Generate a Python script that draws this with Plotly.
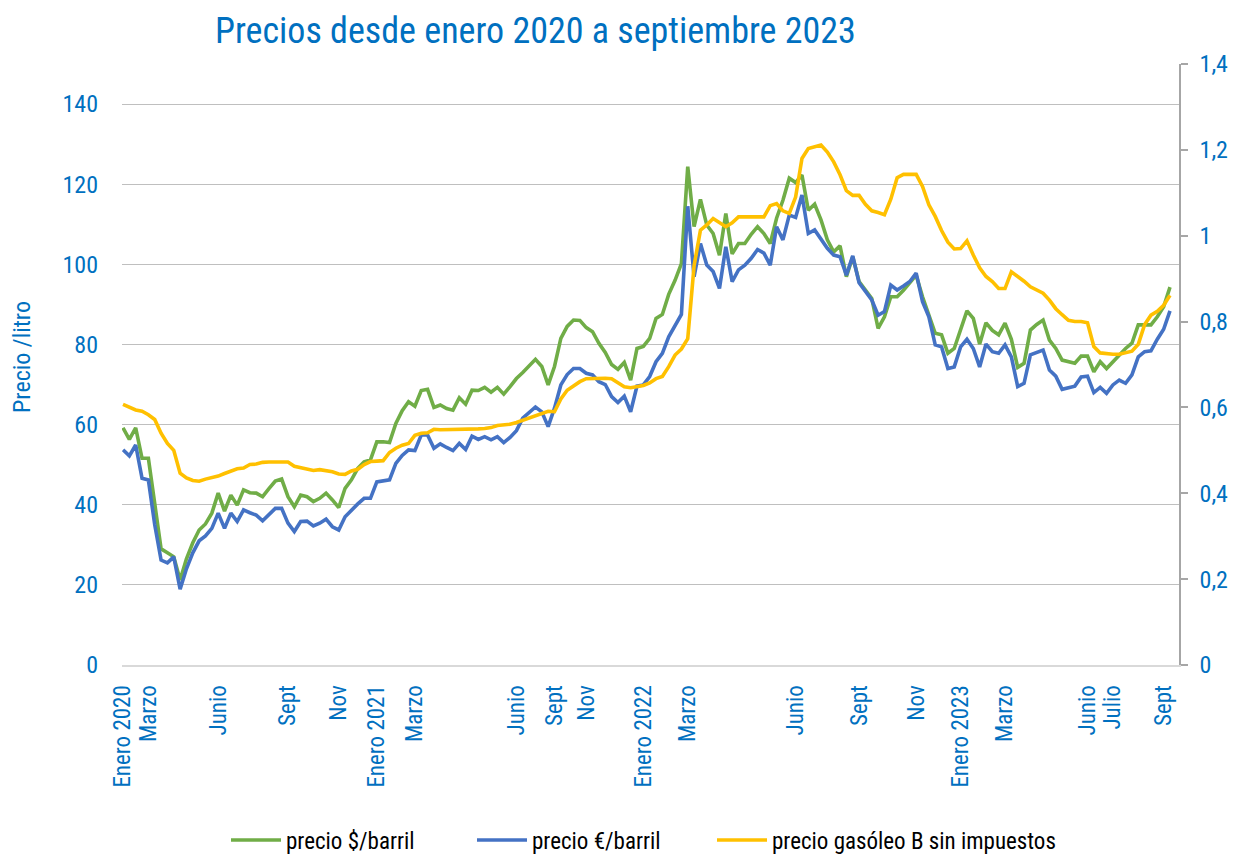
import plotly.graph_objects as go

# ---------------- data ----------------
precio_usd_barril = [
    59.2, 56.3, 59.2, 51.6, 51.6, 40.0, 29.0, 28.0, 27.0, 21.2,
    26.5, 30.5, 33.7, 35.2, 37.9, 42.9, 38.4, 42.4, 39.9, 43.7,
    43.0, 42.9, 42.0, 44.0, 45.9, 46.4, 42.0, 39.5, 42.4, 42.0,
    40.8, 41.6, 42.9, 41.2, 39.3, 44.1, 46.2, 49.1, 50.7, 51.2,
    55.7, 55.7, 55.5, 60.3, 63.5, 65.7, 64.6, 68.5, 68.8, 64.3,
    64.9, 64.0, 63.6, 66.7, 65.1, 68.6, 68.5, 69.3, 68.1, 69.3,
    67.6, 69.5, 71.5, 73.0, 74.5, 76.3, 74.5, 69.9, 74.5, 81.5,
    84.5, 86.1, 86.0, 84.2, 83.2, 80.3, 78.0, 75.0, 73.8, 75.5,
    71.1, 79.0, 79.5, 81.5, 86.5, 87.5, 92.5, 96.0, 100.2, 124.4,
    109.4, 116.2, 109.8, 107.7, 102.3, 112.7, 102.6, 105.2, 105.2, 107.5,
    109.4, 107.7, 105.2, 111.5, 116.0, 121.5, 120.4, 122.3, 113.5, 115.0,
    111.1, 106.1, 103.1, 104.6, 96.9, 101.9, 95.7, 93.6, 91.5, 84.0,
    86.9, 91.9, 91.9, 93.5, 95.5, 97.3, 91.9, 87.0, 82.8, 82.4,
    77.8, 79.0, 83.6, 88.4, 86.5, 80.1, 85.4, 83.5, 82.4, 85.3,
    81.3, 74.3, 75.3, 83.6, 85.0, 86.1, 81.1, 79.0, 76.1, 75.7,
    75.3, 77.1, 77.1, 73.2, 75.7, 74.0, 75.7, 77.4, 79.0, 80.3,
    84.9, 84.9, 84.9, 86.9, 89.4, 94.3,
]

precio_eur_barril = [
    53.7, 52.2, 54.9, 46.6, 46.2, 35.0, 26.2, 25.5, 27.0, 18.9,
    24.0, 28.0, 31.0, 32.2, 34.1, 37.9, 34.1, 37.9, 35.8, 38.7,
    38.0, 37.4, 36.0, 37.5, 39.1, 39.1, 35.4, 33.3, 35.8, 35.9,
    34.7, 35.4, 36.4, 34.5, 33.7, 37.0, 38.7, 40.2, 41.6, 41.6,
    45.7, 46.0, 46.2, 50.3, 52.3, 53.7, 53.5, 57.4, 57.4, 54.1,
    55.2, 54.3, 53.5, 55.3, 53.8, 57.1, 56.3, 57.0, 56.2, 57.0,
    55.5, 56.8, 58.5, 61.6, 63.0, 64.4, 63.2, 59.5, 64.1, 69.9,
    72.5, 74.0, 74.0, 72.8, 72.4, 70.7, 70.0, 67.0, 65.5, 67.1,
    63.2, 69.6, 69.9, 72.0, 75.7, 77.8, 81.9, 84.9, 87.5, 114.5,
    96.9, 105.2, 99.8, 98.2, 94.0, 104.4, 95.7, 98.6, 99.8, 101.5,
    103.7, 102.8, 99.8, 109.4, 106.1, 112.3, 111.7, 117.3, 107.7, 108.6,
    106.1, 104.0, 102.3, 101.9, 97.3, 102.1, 95.4, 93.2, 91.1, 87.3,
    88.2, 94.8, 93.6, 94.6, 95.7, 97.8, 90.7, 86.9, 79.9, 79.4,
    74.0, 74.4, 79.4, 81.3, 79.0, 74.4, 80.1, 78.2, 77.8, 79.9,
    76.9, 69.5, 70.3, 77.4, 78.0, 78.6, 73.6, 72.1, 68.8, 69.2,
    69.6, 71.9, 72.1, 68.0, 69.3, 67.8, 69.9, 71.1, 70.3, 72.4,
    76.9, 78.2, 78.4, 81.3, 83.8, 88.4,
]

precio_gasoleo_b = [
    0.607, 0.600, 0.594, 0.591, 0.583, 0.572, 0.540, 0.516, 0.500, 0.447,
    0.436, 0.430, 0.428, 0.433, 0.436, 0.440, 0.446, 0.451, 0.457, 0.459,
    0.467, 0.468, 0.472, 0.473, 0.473, 0.473, 0.473, 0.463, 0.460, 0.455,
    0.453, 0.455, 0.453, 0.450, 0.445, 0.444, 0.452, 0.456, 0.467, 0.474,
    0.475, 0.476, 0.495, 0.505, 0.512, 0.516, 0.535, 0.540, 0.541, 0.549,
    0.548, 0.548, 0.548, 0.548, 0.548, 0.549, 0.550, 0.551, 0.553, 0.558,
    0.559, 0.561, 0.565, 0.570, 0.576, 0.582, 0.587, 0.591, 0.590, 0.620,
    0.640, 0.650, 0.660, 0.667, 0.668, 0.668, 0.668, 0.667, 0.658, 0.648,
    0.646, 0.648, 0.651, 0.657, 0.667, 0.672, 0.695, 0.722, 0.736, 0.760,
    0.930, 1.013, 1.025, 1.040, 1.031, 1.021, 1.030, 1.044, 1.044, 1.044,
    1.044, 1.044, 1.070, 1.075, 1.058, 1.052, 1.090, 1.180, 1.203, 1.208,
    1.211, 1.195, 1.172, 1.142, 1.105, 1.094, 1.094, 1.073, 1.058, 1.054,
    1.049, 1.085, 1.135, 1.143, 1.143, 1.143, 1.115, 1.072, 1.045, 1.012,
    0.985, 0.969, 0.970, 0.988, 0.955, 0.925, 0.905, 0.893, 0.877, 0.877,
    0.916, 0.906, 0.894, 0.881, 0.873, 0.866, 0.850, 0.830, 0.816, 0.803,
    0.800, 0.800, 0.797, 0.742, 0.727, 0.725, 0.724, 0.724, 0.728, 0.731,
    0.747, 0.793, 0.815, 0.824, 0.838, 0.861,
]

semana = list(range(len(precio_usd_barril)))

etiquetas_pos = [0, 4, 15, 26, 34, 40, 46, 62, 68, 73, 82, 89, 106, 116, 125,
                 132, 139, 152, 156, 164]
etiquetas_txt = ["Enero 2020", "Marzo", "Junio", "Sept", "Nov", "Enero 2021",
                 "Marzo", "Junio", "Sept", "Nov", "Enero 2022", "Marzo", "Junio",
                 "Sept", "Nov", "Enero 2023", "Marzo", "Junio", "Julio", "Sept"]

eje_izq_vals = [0, 20, 40, 60, 80, 100, 120, 140]
eje_der_vals = [0, 0.2, 0.4, 0.6, 0.8, 1.0, 1.2, 1.4]
eje_der_txt = ["0", "0,2", "0,4", "0,6", "0,8", "1", "1,2", "1,4"]

# ---------------- layout geometry ----------------
W, H = 1246, 854
L, R, T, B = 122, 1179, 64, 665
PW, PH = R - L, B - T
FIRST_PX, LAST_PX = 123, 1170
n = len(semana)
scale = (LAST_PX - FIRST_PX) / (n - 1)
x0 = 0 - (FIRST_PX - L) / scale
x1 = (n - 1) + (R - LAST_PX) / scale


def px_x(px):
    return (px - L) / PW


def px_y(py):
    return 1 - (py - T) / PH


BLUE_TXT = "#0070C0"
FONT = "Liberation Sans Narrow, Roboto Condensed, Arial Narrow, Roboto, sans-serif"

fig = go.Figure()
fig.add_trace(go.Scatter(x=semana, y=precio_usd_barril, name="precio $/barril",
                         mode="lines", line=dict(color="#70AD47", width=3.6),
                         yaxis="y", legend="legend"))
fig.add_trace(go.Scatter(x=semana, y=precio_eur_barril, name="precio €/barril",
                         mode="lines", line=dict(color="#4472C4", width=3.6),
                         yaxis="y", legend="legend2"))
fig.add_trace(go.Scatter(x=semana, y=precio_gasoleo_b,
                         name="precio gasóleo B sin impuestos",
                         mode="lines", line=dict(color="#FFC000", width=3.6),
                         yaxis="y2", legend="legend3"))

LEG_Y = 1 - 840 / H
leg_common = dict(orientation="h", xanchor="left", yanchor="middle",
                  xref="container", yref="container", y=LEG_Y,
                  font=dict(size=23, color="#000000"), itemwidth=50,
                  bgcolor="rgba(0,0,0,0)", borderwidth=0)

fig.update_layout(
    width=W, height=H,
    margin=dict(l=L, r=W - R, t=T, b=H - B, pad=0, autoexpand=False),
    paper_bgcolor="white", plot_bgcolor="white",
    font=dict(family=FONT, color=BLUE_TXT, size=24),
    showlegend=True,
    legend=dict(x=226 / W, **leg_common),
    legend2=dict(x=472 / W, **leg_common),
    legend3=dict(x=712 / W, **leg_common),
    xaxis=dict(range=[x0, x1], tickmode="array", tickvals=etiquetas_pos,
               ticktext=etiquetas_txt, tickangle=-90, showgrid=False,
               zeroline=False, showline=True, linecolor="#D9D9D9", linewidth=2,
               ticks="", tickfont=dict(size=23, color=BLUE_TXT),
               ticklabelstandoff=9, automargin=False),
    yaxis=dict(range=[0, 150], tickmode="array", tickvals=eje_izq_vals,
               showgrid=True, gridcolor="#BFBFBF", gridwidth=1.2,
               zeroline=False, showline=False, ticks="",
               tickfont=dict(size=24, color=BLUE_TXT), ticklabelstandoff=23,
               automargin=False),
    yaxis2=dict(range=[0, 1.4], overlaying="y", side="right", tickmode="array",
                tickvals=eje_der_vals, ticktext=eje_der_txt, showgrid=False,
                zeroline=False, showline=True, linecolor="#A6A6A6",
                linewidth=1.5, ticks="outside", ticklen=7, tickwidth=1.5,
                tickcolor="#A6A6A6", tickfont=dict(size=24, color=BLUE_TXT),
                ticklabelstandoff=7, automargin=False),
    annotations=[
        dict(text="Precios desde enero 2020 a septiembre 2023",
             xref="paper", yref="paper", x=px_x(535), y=px_y(31),
             xanchor="center", yanchor="middle", showarrow=False,
             font=dict(size=36, color=BLUE_TXT, family=FONT)),
        dict(text="Precio /litro", xref="paper", yref="paper",
             x=px_x(22), y=px_y(357), xanchor="center", yanchor="middle",
             textangle=-90, showarrow=False,
             font=dict(size=24, color=BLUE_TXT, family=FONT)),
    ],
)

fig.write_html(
    "out.html",
    config={"displayModeBar": False},
    post_script="document.documentElement.style.margin='0';"
                "document.body.style.margin='0';"
                "document.body.style.overflow='hidden';",
)
